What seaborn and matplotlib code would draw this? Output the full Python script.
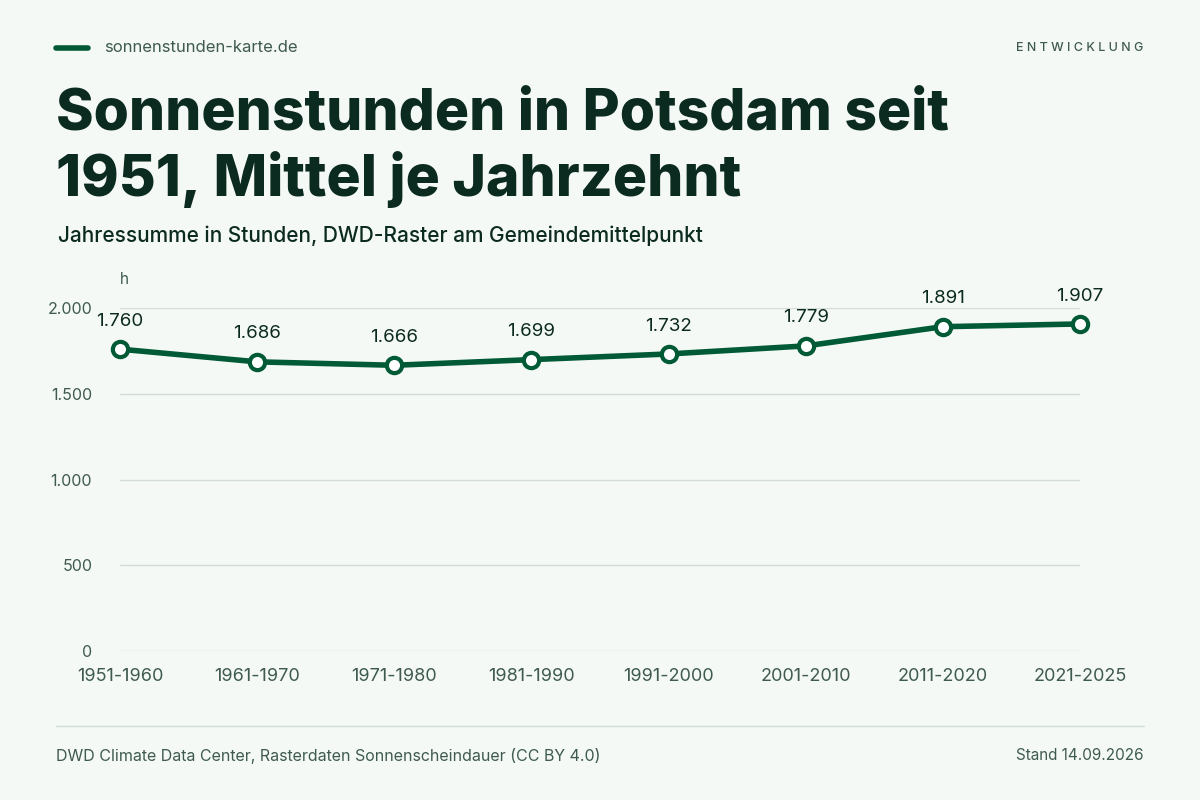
import matplotlib
matplotlib.use("Agg")
import matplotlib.pyplot as plt
import seaborn as sns
import pandas as pd

decades = ["1951-1960", "1961-1970", "1971-1980", "1981-1990", "1991-2000", "2001-2010", "2011-2020", "2021-2025"]
hours = [1760, 1686, 1666, 1699, 1732, 1779, 1891, 1907]
yticks = [0, 500, 1000, 1500, 2000]

bg = "#f4f9f5"
green = "#005a35"
dark = "#0b2a20"
grey = "#3f5a50"

sns.set_theme(style="white")
plt.rcParams["font.family"] = ["Inter", "DejaVu Sans"]

df = pd.DataFrame({"x": range(len(decades)), "h": hours})

fig = plt.figure(figsize=(12, 8), dpi=100, facecolor=bg)
ax = fig.add_axes([0.1, 0.18625, 0.8, 0.42875], facecolor=bg)
sns.lineplot(data=df, x="x", y="h", ax=ax, color=green, lw=4, marker="o", markersize=11,
             markerfacecolor="white", markeredgecolor=green, markeredgewidth=3, clip_on=False)
for i, v in enumerate(hours):
    ax.annotate(f"{v:,}".replace(",", "."), (i, v), xytext=(0, 14), textcoords="offset points",
                ha="center", va="bottom", fontsize=13.5, color=dark)

ax.set_xlim(0, len(decades) - 1)
ax.set_ylim(0, 2000)
ax.set_yticks(yticks)
ax.set_yticklabels([f"{v:,}".replace(",", ".") for v in yticks], fontsize=11.5, color=grey)
ax.set_xticks(range(len(decades)))
ax.set_xticklabels(decades, fontsize=13, color=grey)
ax.tick_params(axis="y", length=0, pad=20)
ax.tick_params(axis="x", length=0, pad=12)
ax.grid(axis="y", color="#d3dbd6", lw=1)
for s in ax.spines.values():
    s.set_visible(False)
ax.set_xlabel("")
ax.set_ylabel("")
fig.text(0.1, 0.645, "h", fontsize=11, color=grey)

fig.add_artist(plt.Line2D([0.047, 0.073], [0.94, 0.94], color=green, lw=4))
fig.text(0.087, 0.94, "sonnenstunden-karte.de", fontsize=12, color=grey, va="center")
fig.text(0.953, 0.94, "E N T W I C K L U N G", fontsize=9, color=grey, va="center", ha="right",
         fontweight="medium")
fig.text(0.047, 0.815, "Sonnenstunden in Potsdam seit\n1951, Mittel je Jahrzehnt", fontsize=41,
         fontweight="heavy", color=dark, va="center", linespacing=1.2)
fig.text(0.048, 0.705, "Jahressumme in Stunden, DWD-Raster am Gemeindemittelpunkt", fontsize=15,
         color=dark, va="center", fontweight="medium")
fig.add_artist(plt.Line2D([0.047, 0.953], [0.092, 0.092], color="#d3dbd6", lw=1))
fig.text(0.047, 0.055, "DWD Climate Data Center, Rasterdaten Sonnenscheindauer (CC BY 4.0)",
         fontsize=11.5, color=grey, va="center")
fig.text(0.953, 0.055, "Stand 14.09.2026", fontsize=11, color=grey, va="center", ha="right")

fig.savefig("out.png", dpi=100, facecolor=bg)
